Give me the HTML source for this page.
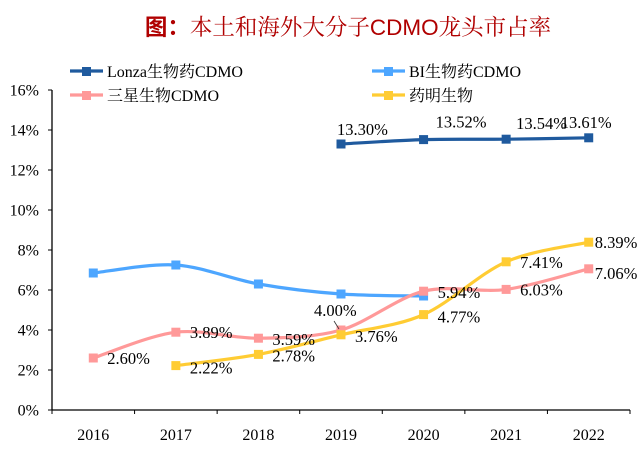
<!DOCTYPE html>
<html><head><meta charset="utf-8">
<style>
body{margin:0;background:#fff;}
svg{display:block;font-family:"Liberation Serif","Noto Serif CJK SC",serif;}
</style></head>
<body>
<svg id="chart" width="643" height="451" viewBox="0 0 643 451">
  <text x="348" y="35" text-anchor="middle" font-size="22.5" fill="#B00000"><tspan font-weight="bold" font-family="'Noto Sans CJK SC',sans-serif">图：</tspan><tspan font-family="'Noto Serif CJK SC',serif">本土和海外大分子</tspan><tspan font-family="'Liberation Sans',sans-serif">CDMO</tspan><tspan font-family="'Noto Serif CJK SC',serif">龙头市占率</tspan></text>
  <g id="legend"></g>
  <g id="axes"></g>
  <g id="series"></g>
  <g id="labels"></g>
</svg>
<script>
const categories = ["2016","2017","2018","2019","2020","2021","2022"];
const yTicks = [0,2,4,6,8,10,12,14,16];
const lonzaValues = [null,null,null,13.30,13.52,13.54,13.61];
const biValues = [6.85,7.25,6.3,5.8,5.7,null,null];
const samsungValues = [2.60,3.89,3.59,4.00,5.94,6.03,7.06];
const wuxiValues = [null,2.22,2.78,3.76,4.77,7.41,8.39];
const lonzaLabels = [null,null,null,"13.30%","13.52%","13.54%","13.61%"];
const samsungLabels = ["2.60%","3.89%","3.59%","4.00%","5.94%","6.03%","7.06%"];
const wuxiLabels = [null,"2.22%","2.78%","3.76%","4.77%","7.41%","8.39%"];

const NS="http://www.w3.org/2000/svg";
const X0=52,X1=630,Y0=410,Y1=90,YMAX=16;
const band=(X1-X0)/categories.length;
const xs=i=>X0+band*(i+0.5);
const ys=v=>Y0-(v/YMAX)*(Y0-Y1);
function mk(tag,attrs,parent){const e=document.createElementNS(NS,tag);for(const k in attrs)e.setAttribute(k,attrs[k]);parent.appendChild(e);return e;}
const axes=document.getElementById('axes');
let e=mk('line',{x1:X0,y1:Y1,x2:X0,y2:Y0,stroke:'#000','stroke-width':1.3},axes);


e=mk('line',{x1:X0,y1:Y0,x2:X1,y2:Y0,stroke:'#000','stroke-width':1.3},axes);


yTicks.forEach(t=>{
  mk('line',{x1:X0-4,y1:ys(t),x2:X0,y2:ys(t),stroke:'#000'},axes);
  const tx=mk('text',{x:X0-13,y:ys(t)+5.5,'text-anchor':'end','font-size':16,fill:'#000'},axes);
  tx.textContent=t+'%';
  
  
});
for(let i=0;i<=categories.length;i++){mk('line',{x1:X0+band*i,y1:Y0,x2:X0+band*i,y2:Y0+4,stroke:'#000'},axes);}
categories.forEach((c,i)=>{
  const tx=mk('text',{x:xs(i),y:Y0+30,'text-anchor':'middle','font-size':16,fill:'#000'},axes);
  tx.textContent=c;
  
  
});
function smoothPath(pts){
  let d=`M${pts[0][0]},${pts[0][1]}`;
  for(let i=0;i<pts.length-1;i++){
    const p0=pts[i-1]||pts[i],p1=pts[i],p2=pts[i+1],p3=pts[i+2]||p2;
    const t=0.16;
    const c1=[p1[0]+(p2[0]-p0[0])*t,p1[1]+(p2[1]-p0[1])*t];
    const c2=[p2[0]-(p3[0]-p1[0])*t,p2[1]-(p3[1]-p1[1])*t];
    d+=` C${c1[0]},${c1[1]} ${c2[0]},${c2[1]} ${p2[0]},${p2[1]}`;
  }
  return d;
}
const seriesG=document.getElementById('series');
function drawSeries(vals,color,name){
  const pts=[];vals.forEach((v,i)=>{if(v!=null)pts.push([xs(i),ys(v)]);});
  const g=mk('g',{},seriesG);
  
  
  mk('path',{d:smoothPath(pts),fill:'none',stroke:color,'stroke-width':3.2},g);
  pts.forEach(p=>{
    const r=mk('rect',{x:p[0]-4.5,y:p[1]-4.5,width:9,height:9,fill:color},g);
    
    
  });
}
drawSeries(biValues,'#4DA6FF','bi-series');
drawSeries(samsungValues,'#FF9999','samsung-series');
drawSeries(wuxiValues,'#FFCC33','wuxi-series');
drawSeries(lonzaValues,'#1F5A9E','lonza-series');
const labelsG=document.getElementById('labels');
const lonzaOff=[null,null,null,[-4,-9],[12,-12],[10,-10],[-28,-10]];
const samsungOff=[[14,6],[14,6],[14,7],[-27,-14],[14,7],[14,6],[6,10]];
const wuxiOff=[null,[14,8],[14,7],[14,7],[14,8],[14,6],[6,6]];
function drawLabels(vals,labels,off,name){
  vals.forEach((v,i)=>{
    if(v==null)return;
    const t=mk('text',{x:xs(i)+off[i][0],y:ys(v)+off[i][1],'font-size':16.5,fill:'#000'},labelsG);
    t.textContent=labels[i];
    
    
  });
}
drawLabels(lonzaValues,lonzaLabels,lonzaOff,'lonza');
drawLabels(samsungValues,samsungLabels,samsungOff,'samsung');
drawLabels(wuxiValues,wuxiLabels,wuxiOff,'wuxi');
mk('line',{x1:xs(3)-7,y1:ys(samsungValues[3])-9,x2:xs(3)-2,y2:ys(samsungValues[3])-1,stroke:'#333','stroke-width':0.8},labelsG);
const legend=document.getElementById('legend');
const legendItems=[["Lonza生物药CDMO",'#1F5A9E',70,71],["BI生物药CDMO",'#4DA6FF',372,71],["三星生物CDMO",'#FF9999',70,95],["药明生物",'#FFCC33',372,95]];
legendItems.forEach(it=>{
  const g=mk('g',{},legend);
  
  
  mk('line',{x1:it[2],y1:it[3],x2:it[2]+33,y2:it[3],stroke:it[1],'stroke-width':3.2},g);
  mk('rect',{x:it[2]+12,y:it[3]-4,width:9,height:9,fill:it[1]},g);
  const t=mk('text',{x:it[2]+37,y:it[3]+6,'font-size':16,fill:'#000'},g);
  t.textContent=it[0];
});
</script>
</body></html>
